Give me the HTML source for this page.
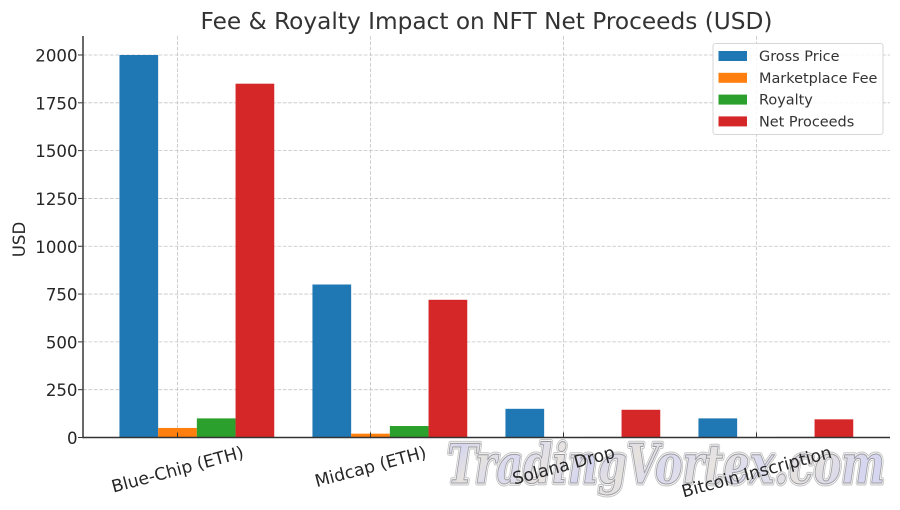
<!DOCTYPE html>
<html>
<head>
<meta charset="utf-8">
<title>Fee &amp; Royalty Impact on NFT Net Proceeds (USD)</title>
<style>
html,body{margin:0;padding:0;background:#fff;}
svg{display:block;font-family:"DejaVu Sans","Liberation Sans",sans-serif;}
</style>
</head>
<body>
<svg id="chart" width="900" height="510" viewBox="0 0 900 510" xmlns="http://www.w3.org/2000/svg">
<defs>
<linearGradient id="wmFill" x1="0" y1="0" x2="1" y2="0.12">
<stop offset="0" stop-color="#e6e2de"/><stop offset="0.06" stop-color="#d6d6f0"/><stop offset="0.12" stop-color="#e6e2de"/>
<stop offset="0.2" stop-color="#dadaf0"/><stop offset="0.3" stop-color="#e8e4e0"/><stop offset="0.38" stop-color="#d6d6f0"/>
<stop offset="0.47" stop-color="#e6e2de"/><stop offset="0.56" stop-color="#dadaf0"/><stop offset="0.66" stop-color="#e8e4e0"/>
<stop offset="0.76" stop-color="#dadaf0"/><stop offset="0.88" stop-color="#e6e2de"/><stop offset="1" stop-color="#d6d6f0"/>
</linearGradient>
</defs>
<rect x="0" y="0" width="900" height="510" fill="#ffffff"/>
<g id="grid"></g>
<g id="bars"></g>
<g id="axes"></g>
<g font-family="'DejaVu Serif',serif" font-weight="bold" font-style="italic" font-size="54">
<text x="447" y="483" textLength="438" lengthAdjust="spacingAndGlyphs" fill="none" stroke="#c4c4c4" stroke-width="5" stroke-linejoin="round">TradingVortex.com</text>
<text x="447" y="483" textLength="438" lengthAdjust="spacingAndGlyphs" fill="none" stroke="#f6f6f6" stroke-width="3" stroke-linejoin="round">TradingVortex.com</text>
<text x="447" y="483" textLength="438" lengthAdjust="spacingAndGlyphs" fill="url(#wmFill)" stroke="#9a9aa0" stroke-width="1" stroke-linejoin="round">TradingVortex.com</text>
</g>
<g id="xlabels"></g>
<text x="486.5" y="29" text-anchor="middle" font-size="23.24" fill="#333333">Fee &amp; Royalty Impact on NFT Net Proceeds (USD)</text>
<text transform="translate(25,239.5) rotate(-90)" text-anchor="middle" font-size="16.6" fill="#262626">USD</text>
<g id="legend"></g>
</svg>
<script>
var categories = ["Blue-Chip (ETH)", "Midcap (ETH)", "Solana Drop", "Bitcoin Inscription"];
var seriesNames = ["Gross Price", "Marketplace Fee", "Royalty", "Net Proceeds"];
var grossPrice = [2000, 800, 150, 100];
var marketplaceFee = [50, 20, 2, 2];
var royalty = [100, 60, 3, 3];
var netProceeds = [1850, 720, 145, 95];
var yTicks = [0, 250, 500, 750, 1000, 1250, 1500, 1750, 2000];

var seriesValues = [grossPrice, marketplaceFee, royalty, netProceeds];
var colors = ["#1f77b4", "#ff7f0e", "#2ca02c", "#d62728"];
var NS = "http://www.w3.org/2000/svg";
var plotLeft = 83, plotRight = 890, plotTop = 36, plotBase = 437.5;
var gridColor = "#c4c4c4", gridWidth = 0.8, gridDash = "3.7 1.7";

function yScale(v) { return plotBase - v * (382.5 / 2000); }
function xScale(i) { return 177.5 + i * 193; }
var barWidth = 38.7;

function mk(tag, parent, attrs) {
  var el = document.createElementNS(NS, tag);
  for (var k in attrs) el.setAttribute(k, attrs[k]);
  parent.appendChild(el);
  return el;
}

var grid = document.getElementById("grid");
var axes = document.getElementById("axes");
var bars = document.getElementById("bars");
var xlabels = document.getElementById("xlabels");
var legend = document.getElementById("legend");

yTicks.forEach(function (t) {
  var y = yScale(t);
  var g = mk("line", grid, {x1: plotLeft, x2: plotRight, y1: y, y2: y, stroke: gridColor, "stroke-width": gridWidth, "stroke-dasharray": gridDash});
  
  
  var tk = mk("line", axes, {x1: plotLeft - 5, x2: plotLeft, y1: y, y2: y, stroke: "#333333", "stroke-width": 1});
  
  
  var lb = mk("text", axes, {x: plotLeft - 5.5, y: y + 6.5, "text-anchor": "end", "font-size": 16.6, fill: "#262626"});
  lb.textContent = String(t);
  
  
});

categories.forEach(function (c, i) {
  var x = xScale(i);
  var g = mk("line", grid, {x1: x, x2: x, y1: plotTop, y2: plotBase, stroke: gridColor, "stroke-width": gridWidth, "stroke-dasharray": gridDash});
  
  
});

seriesValues.forEach(function (vals, s) {
  vals.forEach(function (v, i) {
    var left = xScale(i) + (s - 1.5) * barWidth;
    var r = mk("rect", bars, {x: left, y: yScale(v), width: barWidth, height: plotBase - yScale(v), fill: colors[s]});
    
    
  });
});

categories.forEach(function (c, i) {
  var x = xScale(i);
  var tk = mk("line", axes, {x1: x, x2: x, y1: plotBase - 5, y2: plotBase, stroke: "#333333", "stroke-width": 1});
  
  
});

var spineY = mk("line", axes, {x1: plotLeft, x2: plotLeft, y1: plotTop, y2: plotBase + 0.8, stroke: "#444444", "stroke-width": 1.6});


var spineX = mk("line", axes, {x1: plotLeft, x2: plotRight, y1: plotBase, y2: plotBase, stroke: "#333333", "stroke-width": 1.6});



var angle = 15 * Math.PI / 180;
categories.forEach(function (c, i) {
  var t = mk("text", xlabels, {"text-anchor": "middle", "font-size": 17.2, fill: "#262626"});
  t.textContent = c;
  
  
  var w = t.getComputedTextLength();
  var h = w * Math.sin(angle) + 19 * Math.cos(angle);
  var cy = 442.5 + h / 2;
  t.setAttribute("transform", "translate(" + xScale(i) + "," + cy + ") rotate(-15) translate(0,6)");
});

var box = mk("rect", legend, {x: 713, y: 43.5, width: 170, height: 91, rx: 2.5, fill: "#ffffff", "fill-opacity": 0.85, stroke: "#d6d6d6", "stroke-width": 1});


seriesNames.forEach(function (n, s) {
  var y = 56 + s * 21.8;
  var sw = mk("rect", legend, {x: 718.5, y: y - 5, width: 28.5, height: 10, fill: colors[s]});
  
  
  var t = mk("text", legend, {x: 759, y: y + 5, "font-size": 14.45, fill: "#333333"});
  t.textContent = n;
  
  
});
</script>
</body>
</html>
